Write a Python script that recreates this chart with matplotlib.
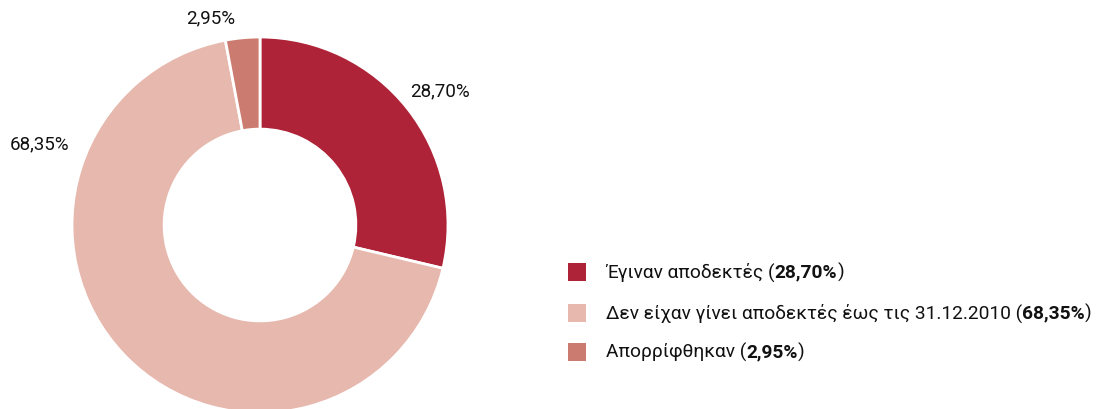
import matplotlib.pyplot as plt
from matplotlib.patches import Rectangle

plt.rcParams['font.family'] = ['Roboto', 'DejaVu Sans']

# data
labels = ["Έγιναν αποδεκτές", "Δεν είχαν γίνει αποδεκτές έως τις 31.12.2010", "Απορρίφθηκαν"]
values = [28.70, 68.35, 2.95]
value_text = ["28,70%", "68,35%", "2,95%"]
colors = ["#AE2338", "#E7B8AD", "#CC7B70"]

# label positions in pie data coords (manual, like the original)
label_pos = [(0.96, 0.71), (-1.17, 0.43), (-0.26, 1.10)]

W, H = 1100, 409
fig = plt.figure(figsize=(W / 100, H / 100), dpi=100)

cx, cy, r = 260, 184, 188
ax = fig.add_axes([(cx - r) / W, (cy - r) / H, 2 * r / W, 2 * r / H])
wedges, _ = ax.pie(values, colors=colors, startangle=90, counterclock=False,
                   radius=1.0, wedgeprops=dict(width=0.49, edgecolor="white", linewidth=2))
for w in wedges:
    w.set_clip_on(False)
ax.set_xlim(-1, 1)
ax.set_ylim(-1, 1)
ax.set_aspect("equal")
ax.axis("off")

for (x, y), t in zip(label_pos, value_text):
    ax.text(x, y, t, ha="center", va="center", fontsize=13.5, color="#111111", clip_on=False)

# legend drawn by hand (bold numbers inside)
fig.canvas.draw()
renderer = fig.canvas.get_renderer()
rows_y = [272, 313, 352]
fs = 13.8
for lab, vt, c, ypx in zip(labels, value_text, colors, rows_y):
    yf = (H - ypx) / H
    fig.patches.append(Rectangle((568 / W, yf - 9 / H), 18 / W, 18 / H,
                                 transform=fig.transFigure, facecolor=c, edgecolor="none"))
    t1 = fig.text(606 / W, yf, lab + " (", ha="left", va="center", fontsize=fs, color="#111111")
    bb = t1.get_window_extent(renderer)
    t2 = fig.text(bb.x1 / W, yf, vt, ha="left", va="center", fontsize=fs,
                  fontweight="bold", color="#111111")
    bb2 = t2.get_window_extent(renderer)
    fig.text(bb2.x1 / W, yf, ")", ha="left", va="center", fontsize=fs, color="#111111")

fig.savefig("out.png", dpi=100)
